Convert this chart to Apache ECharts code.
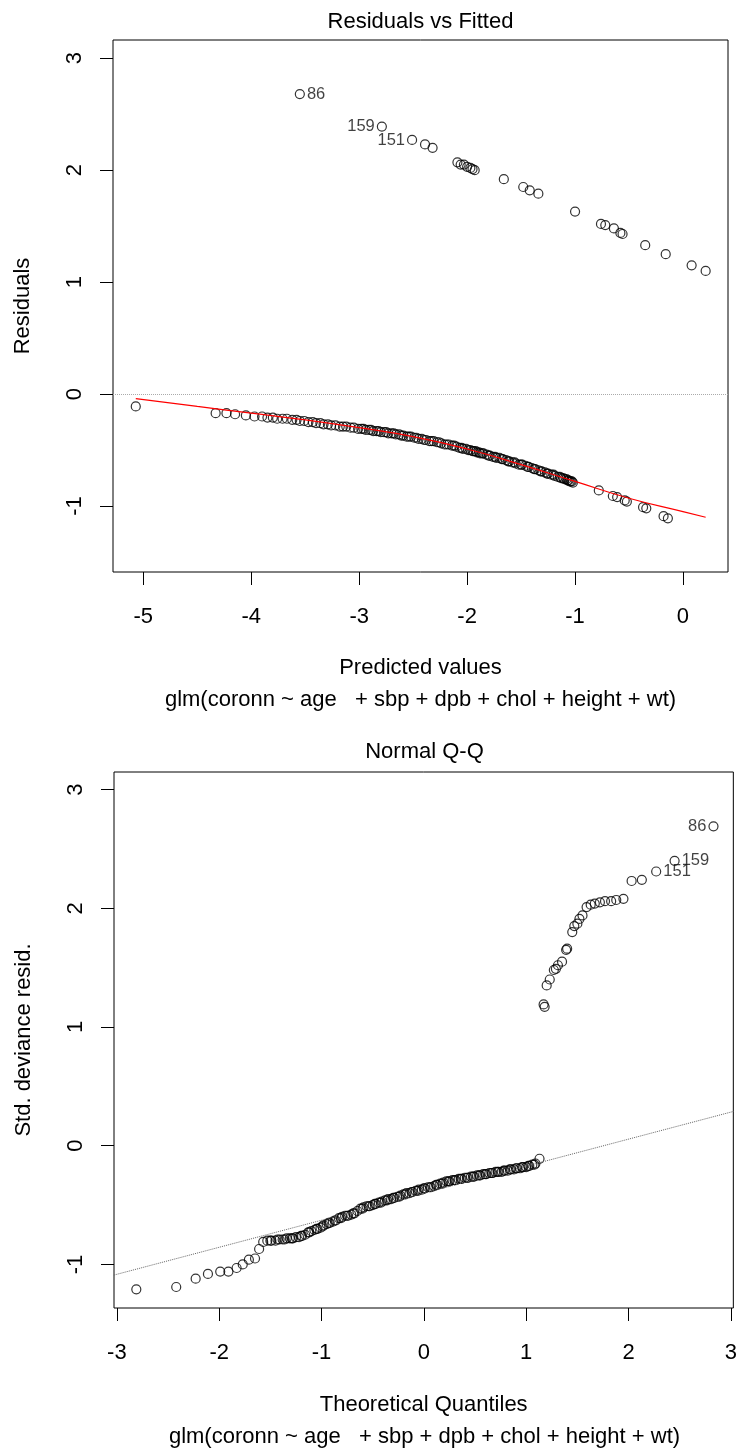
<!DOCTYPE html>
<html><head><meta charset="utf-8">
<script src="https://cdn.jsdelivr.net/npm/echarts@6/dist/echarts.min.js"></script>
<style>html,body{margin:0;padding:0;background:#fff}#c{width:740px;height:1452px}</style>
</head><body><div id="c"></div>
<script>
// ---------- DATA ----------
// Residuals vs Fitted : upper branch (coronn = 1) [fitted, residual]
const rvfUpper = [[-3.55,2.68],[-2.79,2.39],[-2.51,2.27],[-2.39,2.23],[-2.32,2.20],[-2.09,2.07],[-2.06,2.05],[-2.03,2.05],[-2.00,2.03],[-1.97,2.02],[-1.95,2.01],[-1.93,2.00],[-1.66,1.92],[-1.48,1.85],[-1.42,1.82],[-1.34,1.79],[-1.00,1.63],[-0.76,1.52],[-0.72,1.51],[-0.64,1.48],[-0.58,1.44],[-0.56,1.43],[-0.35,1.33],[-0.16,1.25],[0.08,1.15],[0.21,1.10]];
const rvfUpperIds = ['86','159','151'];
// lower branch (coronn = 0)
const rvfLower = [[-5.07,-0.11],[-4.33,-0.17],[-4.23,-0.17],[-4.15,-0.18],[-4.05,-0.19],[-3.97,-0.20],[-3.90,-0.20],
[-3.85,-0.21],[-3.80,-0.21],[-3.76,-0.22],[-3.71,-0.22],[-3.67,-0.22],[-3.62,-0.23],[-3.58,-0.23],[-3.55,-0.24],[-3.51,-0.24],[-3.47,-0.25],[-3.43,-0.25],[-3.40,-0.26],[-3.36,-0.26],[-3.33,-0.27],[-3.29,-0.27],[-3.26,-0.28],[-3.22,-0.28],[-3.18,-0.29],[-3.15,-0.29],[-3.12,-0.29],[-3.08,-0.30],[-3.05,-0.30],[-3.01,-0.31],[-2.98,-0.31],[-2.94,-0.32],[-2.91,-0.32],[-2.87,-0.33],[-2.84,-0.33],[-2.80,-0.34],[-2.77,-0.34],[-2.73,-0.35],[-2.70,-0.35],[-2.66,-0.36],[-2.63,-0.36],[-2.59,-0.37],[-2.56,-0.38],[-2.52,-0.38],[-2.49,-0.39],[-2.45,-0.40],[-2.42,-0.40],[-2.38,-0.41],[-2.35,-0.42],[-2.31,-0.42],[-2.28,-0.43],[-2.24,-0.44],[-2.21,-0.45],[-2.17,-0.45],[-2.14,-0.46],[-2.10,-0.47],[-2.07,-0.48],[-2.04,-0.49],[-2.01,-0.49],[-1.97,-0.50],[-1.95,-0.51],[-1.94,-0.51],[-1.91,-0.52],[-1.89,-0.52],[-1.88,-0.53],[-1.85,-0.53],[-1.82,-0.54],[-1.79,-0.55],[-1.76,-0.56],[-1.73,-0.57],[-1.70,-0.57],[-1.67,-0.58],[-1.64,-0.59],[-1.61,-0.60],[-1.58,-0.61],[-1.55,-0.62],[-1.52,-0.63],[-1.49,-0.63],[-1.46,-0.64],[-1.43,-0.65],[-1.40,-0.66],[-1.37,-0.67],[-1.34,-0.68],[-1.31,-0.69],[-1.28,-0.70],[-1.25,-0.71],[-1.22,-0.72],[-1.19,-0.73],[-1.16,-0.74],[-1.13,-0.75],[-1.10,-0.76],[-1.08,-0.76],[-1.07,-0.77],[-1.05,-0.78],[-1.03,-0.78],[-1.02,-0.79],
[-2.96,-0.31],[-2.89,-0.32],[-2.82,-0.33],[-2.75,-0.34],[-2.68,-0.35],[-2.61,-0.37],[-2.54,-0.38],[-2.47,-0.39],[-2.40,-0.41],[-2.33,-0.42],[-2.26,-0.43],[-2.19,-0.45],[-2.12,-0.46],[-2.05,-0.48],[-1.99,-0.50],[-1.92,-0.51],[-1.86,-0.53],[-1.80,-0.55],[-1.74,-0.56],[-1.68,-0.58],[-1.62,-0.60],[-1.56,-0.61],[-1.50,-0.63],[-1.44,-0.65],[-1.38,-0.67],[-1.32,-0.69],[-1.26,-0.71],[-1.20,-0.72],[-1.14,-0.74],[-1.11,-0.75],[-1.06,-0.77],[-1.04,-0.78],
[-0.78,-0.86],[-0.65,-0.91],[-0.61,-0.92],[-0.54,-0.95],[-0.52,-0.96],[-0.37,-1.01],[-0.34,-1.02],[-0.18,-1.09],[-0.14,-1.11]];
// red smoother
const rvfSmooth = [[-5.07,-0.04],[-4.5,-0.11],[-4.0,-0.17],[-3.5,-0.23],[-3.0,-0.30],[-2.5,-0.38],[-2.0,-0.49],[-1.5,-0.63],[-1.0,-0.78],[-0.5,-0.93],[0.0,-1.05],[0.21,-1.10]];

// Normal Q-Q : [theoretical quantile, std. deviance resid.]
const qqLower = [[-2.81,-1.21],[-2.42,-1.19],[-2.23,-1.12],[-2.11,-1.08],[-1.99,-1.06],[-1.91,-1.06],[-1.83,-1.03],[-1.77,-1.00],[-1.71,-0.96],[-1.65,-0.95],[-1.61,-0.87],[-1.57,-0.81],
[-1.53,-0.80],[-1.49,-0.80],[-1.45,-0.80],[-1.41,-0.79],[-1.38,-0.79],[-1.34,-0.78],[-1.31,-0.78],[-1.28,-0.78],[-1.25,-0.77],[-1.22,-0.77],[-1.19,-0.76],[-1.16,-0.75],[-1.13,-0.73],[-1.10,-0.72],[-1.07,-0.71],[-1.04,-0.70],[-1.01,-0.69],[-0.98,-0.67],[-0.95,-0.66],[-0.92,-0.65],
[-0.89,-0.64],[-0.86,-0.63],[-0.83,-0.61],[-0.80,-0.60],[-0.77,-0.59],[-0.74,-0.59],[-0.71,-0.58],[-0.68,-0.57],[-0.65,-0.55],[-0.62,-0.53],[-0.59,-0.52],[-0.56,-0.51],[-0.53,-0.51],[-0.50,-0.50],[-0.47,-0.49],[-0.44,-0.48],[-0.41,-0.47],[-0.38,-0.46],[-0.35,-0.45],[-0.32,-0.45],[-0.29,-0.44],[-0.26,-0.43],[-0.23,-0.42],[-0.20,-0.41],[-0.17,-0.40],[-0.14,-0.40],[-0.11,-0.39],[-0.08,-0.38],[-0.05,-0.37],[-0.02,-0.37],[0.01,-0.36],[0.04,-0.35],[0.07,-0.35],[0.10,-0.34],[0.13,-0.33],[0.16,-0.32],[0.19,-0.31],[0.22,-0.30],[0.25,-0.30],[0.28,-0.29],[0.31,-0.29],[0.34,-0.28],[0.37,-0.28],[0.40,-0.27],[0.43,-0.27],[0.46,-0.26],[0.49,-0.26],[0.52,-0.25],[0.55,-0.25],[0.58,-0.24],[0.61,-0.24],[0.64,-0.23],[0.67,-0.23],[0.70,-0.22],[0.73,-0.22],[0.76,-0.22],[0.79,-0.21],[0.82,-0.21],[0.85,-0.20],[0.88,-0.20],[0.91,-0.19],[0.94,-0.19],[0.97,-0.18],[1.00,-0.18],[1.03,-0.17],[1.06,-0.16],[1.09,-0.15],[1.13,-0.11],
[-0.60,-0.53],[-0.54,-0.51],[-0.48,-0.49],[-0.42,-0.48],[-0.36,-0.46],[-0.30,-0.44],[-0.24,-0.43],[-0.18,-0.41],[-0.12,-0.39],[-0.06,-0.38],[0.00,-0.36],[0.06,-0.35],[0.12,-0.33],[0.18,-0.32],[0.24,-0.30],[0.30,-0.29],[0.36,-0.28],[0.42,-0.27],[0.48,-0.26],[0.54,-0.25],[0.60,-0.24],[0.66,-0.23],[0.72,-0.22],[0.78,-0.21],[0.84,-0.20],[0.90,-0.19],[0.96,-0.18],[1.02,-0.17],[1.08,-0.16],[-1.50,-0.80],[-1.43,-0.79],[-1.36,-0.79],[-1.29,-0.78],[-1.20,-0.76],[-1.12,-0.73],[-1.05,-0.70],[-0.99,-0.68],[-0.93,-0.65],[-0.87,-0.63],[-0.81,-0.61],[-0.75,-0.59],[-0.69,-0.57]];
const qqUpper = [[1.17,1.19],[1.18,1.17],[1.20,1.35],[1.23,1.40],[1.27,1.48],[1.29,1.49],[1.31,1.52],[1.35,1.55],[1.39,1.65],[1.40,1.66],[1.45,1.80],[1.47,1.85],[1.50,1.87],[1.52,1.91],[1.55,1.94],[1.59,2.01],[1.63,2.03],[1.67,2.04],[1.72,2.05],[1.77,2.06],[1.83,2.06],[1.88,2.07],[1.95,2.08],[2.03,2.23],[2.13,2.24],[2.27,2.31],[2.45,2.40],[2.83,2.69]];
const qqIds = {'2.83':'86','2.45':'159','2.27':'151'};
const qqLine = [[-3.03,-1.09],[3.03,0.29]];

const rvfXTicks = [-5,-4,-3,-2,-1,0];
const rvfYTicks = [-1,0,1,2,3];
const qqXTicks = [-3,-2,-1,0,1,2,3];
const qqYTicks = [-1,0,1,2,3];

const subText = 'glm(coronn ~ age   + sbp + dpb + chol + height + wt)';

// ---------- CHART ----------
const FONT = '"Liberation Sans", Arial, sans-serif';
const FS = 22;
const chart = echarts.init(document.getElementById('c'), null, {renderer:'canvas'});

const circleStyle = {color:'rgba(0,0,0,0)', borderColor:'#000', borderWidth:1.2};
const lblStyle = {fontFamily:FONT, fontSize:16.5, color:'#111'};
const SYM = 9;

function rvfUpperData(){
  return rvfUpper.map((p,i)=>{
    if(i<rvfUpperIds.length){
      return {value:p, label:{show:true, formatter:rvfUpperIds[i], position: i===0?'right':'left', distance:2, ...lblStyle}};
    }
    return {value:p};
  });
}
function qqUpperData(){
  return qqUpper.map(p=>{
    const id = qqIds[p[0].toFixed(2)];
    if(id){
      return {value:p, label:{show:true, formatter:id, position: id==='86'?'left':'right', distance:2, ...lblStyle}};
    }
    return {value:p};
  });
}

function xAxisCfg(gridIndex,min,max,ticks,name,gap){
  return {type:'value', gridIndex, min, max, name, nameLocation:'middle', nameGap:gap,
    nameTextStyle:{fontFamily:FONT,fontSize:FS,color:'#000'},
    axisLine:{show:false,onZero:false}, splitLine:{show:false},
    axisTick:{show:true,length:13,inside:false,customValues:ticks,lineStyle:{color:'#000',width:1}},
    axisLabel:{show:true,customValues:ticks,margin:34,fontFamily:FONT,fontSize:FS,color:'#000',
      formatter:v=>String(v)}};
}
function yAxisCfg(gridIndex,min,max,ticks,name,gap){
  return {type:'value', gridIndex, min, max, name, nameLocation:'middle', nameGap:gap, nameRotate:90,
    nameTextStyle:{fontFamily:FONT,fontSize:FS,color:'#000'},
    axisLine:{show:false,onZero:false}, splitLine:{show:false},
    axisTick:{show:true,length:13,inside:false,customValues:ticks,lineStyle:{color:'#000',width:1}},
    axisLabel:{show:true,customValues:ticks,rotate:90,margin:27,fontFamily:FONT,fontSize:FS,color:'#000',
      formatter:v=>String(v)}};
}

const titleStyle = {fontFamily:FONT,fontSize:FS,fontWeight:'normal',color:'#000'};

chart.setOption({
  animation:false,
  backgroundColor:'#fff',
  title:[
    {text:'Residuals vs Fitted', left:420.5, top:11, textAlign:'center', padding:0, textStyle:titleStyle},
    {text:subText, left:420.5, top:689, textAlign:'center', padding:0, textStyle:titleStyle},
    {text:'Normal Q-Q', left:424.5, top:741, textAlign:'center', padding:0, textStyle:titleStyle},
    {text:subText, left:424.5, top:1426, textAlign:'center', padding:0, textStyle:titleStyle}
  ],
  grid:[
    {left:113, top:40, width:615, height:532, show:true, borderColor:'#000', borderWidth:1, backgroundColor:'transparent'},
    {left:114, top:772, width:621, height:536, show:true, borderColor:'#000', borderWidth:1, backgroundColor:'transparent'}
  ],
  xAxis:[
    xAxisCfg(0,-5.281,0.417,rvfXTicks,'Predicted values',85),
    xAxisCfg(1,-3.028,3.024,qqXTicks,'Theoretical Quantiles',86)
  ],
  yAxis:[
    yAxisCfg(0,-1.589,3.163,rvfYTicks,'Residuals',79),
    yAxisCfg(1,-1.367,3.148,qqYTicks,'Std. deviance resid.',79)
  ],
  series:[
    {type:'scatter', xAxisIndex:0, yAxisIndex:0, symbol:'circle', symbolSize:SYM, itemStyle:circleStyle,
     data:rvfLower, silent:true,
     markLine:{silent:true, symbol:'none', label:{show:false},
       lineStyle:{color:'#aaa', type:'dotted', width:1}, data:[{yAxis:0}]}},
    {type:'scatter', xAxisIndex:0, yAxisIndex:0, symbol:'circle', symbolSize:SYM, itemStyle:circleStyle,
     data:rvfUpperData(), silent:true},
    {type:'line', xAxisIndex:0, yAxisIndex:0, data:rvfSmooth, smooth:true, symbol:'none',
     lineStyle:{color:'#ff0000', width:1.2}, silent:true},
    {type:'line', xAxisIndex:1, yAxisIndex:1, data:qqLine, symbol:'none', clip:true,
     lineStyle:{color:'#666', type:'dotted', width:1}, silent:true},
    {type:'scatter', xAxisIndex:1, yAxisIndex:1, symbol:'circle', symbolSize:SYM, itemStyle:circleStyle,
     data:qqLower, silent:true},
    {type:'scatter', xAxisIndex:1, yAxisIndex:1, symbol:'circle', symbolSize:SYM, itemStyle:circleStyle,
     data:qqUpperData(), silent:true}
  ]
});
</script>
</body></html>
